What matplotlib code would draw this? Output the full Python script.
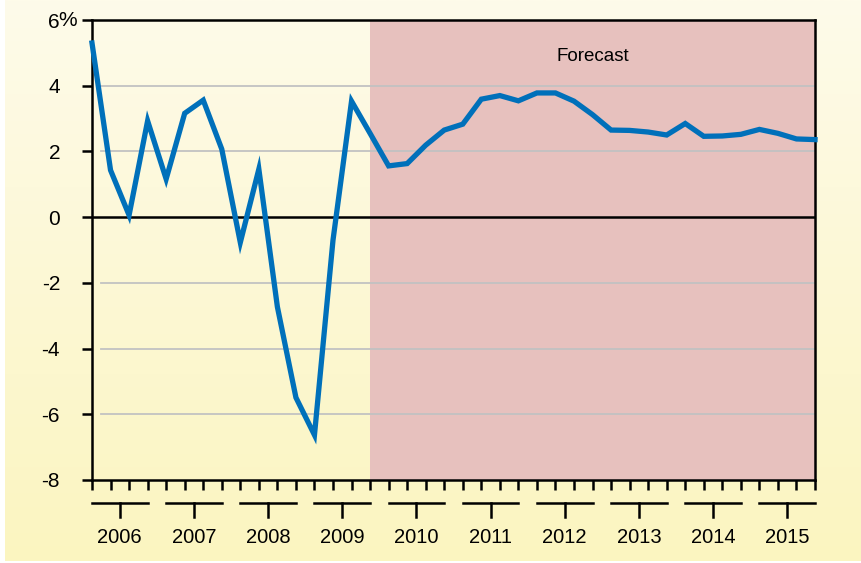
"""GDP growth by quarter, 2006-2015, with forecast shading."""
import matplotlib
matplotlib.use('Agg')
import matplotlib.pyplot as plt
import numpy as np

plt.rcParams['font.family'] = ['Liberation Sans', 'DejaVu Sans']

# ── Data ────────────────────────────────────────────────────────────────
years = ['2006', '2007', '2008', '2009', '2010',
         '2011', '2012', '2013', '2014', '2015']
growth = [5.3, 1.43, 0.06, 2.93, 1.16, 3.16, 3.56, 2.07,
          -0.77, 1.46, -2.73, -5.49, -6.63, -0.7, 3.53, 2.55,
          1.56, 1.63, 2.19, 2.65, 2.83, 3.59, 3.70, 3.54,
          3.78, 3.78, 3.53, 3.12, 2.65, 2.64, 2.59, 2.50,
          2.85, 2.46, 2.47, 2.52, 2.67, 2.55, 2.38, 2.36]
forecast_start = 15          # 2009 Q4
y_ticks = [-8, -6, -4, -2, 0, 2, 4, 6]
y_labels = ['-8', '-6', '-4', '-2', '0', '2', '4', '6']

LINE = '#0070BA'
SHADE = '#E7C1BE'
GRID = '#C2C2C2'

fig = plt.figure(figsize=(8.61, 5.63), dpi=100)

# fondo degradado
bg = fig.add_axes([5 / 861, 2 / 563, 1 - 5 / 861, 1 - 2 / 563], zorder=-5)
top = np.array([254, 251, 234]) / 255
bot = np.array([251, 245, 192]) / 255
t = np.linspace(0, 1, 256)[:, None]
grad = (top * (1 - t) + bot * t)[:, None, :]
bg.imshow(grad, aspect='auto', extent=[0, 1, 0, 1])
bg.axis('off')

ax = fig.add_axes([92 / 861, 1 - 480 / 563, 723 / 861, 460 / 563])
ax.set_facecolor('none')

x = np.arange(len(growth))
ax.axvspan(forecast_start, len(growth) - 1, color=SHADE, zorder=0, lw=0)

for v in y_ticks:
    if v in (-8, 0, 6):
        continue
    ax.axhline(v, xmin=0.012, color=GRID, lw=1.3, zorder=1)
ax.axhline(0, color='black', lw=1.8, zorder=2)

ax.plot(x, growth, color=LINE, lw=3.8, zorder=3, solid_joinstyle='miter',
        clip_on=False)

ax.set_xlim(0, len(growth) - 1)
ax.set_ylim(-8, 6)
ax.set_yticks(y_ticks)
ax.set_yticklabels(y_labels, fontsize=15)
ax.set_xticks(x)
ax.set_xticklabels([])
ax.tick_params(axis='both', direction='out', length=7, width=1.8,
               color='black')
ax.tick_params(axis='y', pad=16)
for s in ax.spines.values():
    s.set_linewidth(1.8)

# signo % pegado al 6
ax.annotate('%', xy=(0, 6), xycoords=('axes fraction', 'data'),
            xytext=(-24, 0), textcoords='offset points',
            ha='left', va='center', fontsize=15)

ax.text(27, 4.9, 'Forecast', ha='center', va='center', fontsize=13.5)

# barras de año debajo del eje
tr = ax.get_xaxis_transform()
for i, yr in enumerate(years):
    a, b = 4 * i, 4 * i + 3
    c = 4 * i + 1.5
    ax.plot([a, b], [-0.05, -0.05], color='black', lw=1.8,
            transform=tr, clip_on=False)
    ax.plot([c, c], [-0.05, -0.08], color='black', lw=1.8,
            transform=tr, clip_on=False)
    ax.text(c, -0.124, yr, ha='center', va='center', fontsize=14.5,
            transform=tr)

fig.savefig('out.png', dpi=100)
